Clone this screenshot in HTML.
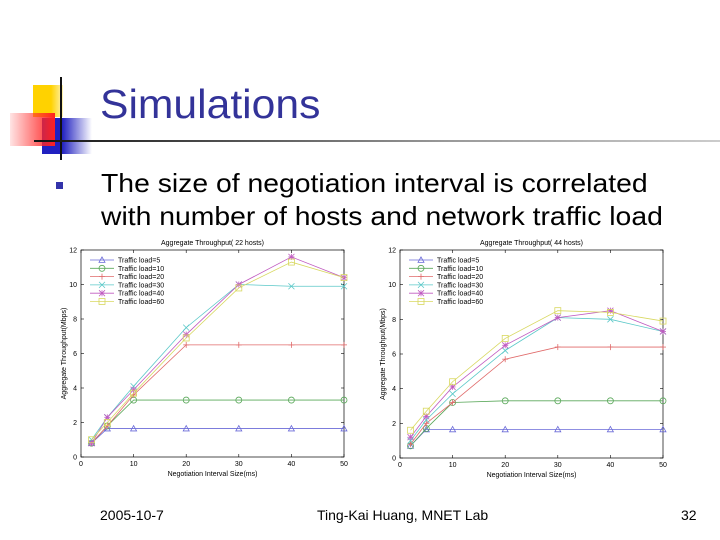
<!DOCTYPE html>
<html><head><meta charset="utf-8">
<style>
body{margin:0;background:#fff}
#slide{position:relative;width:720px;height:540px;overflow:hidden;background:#fff;font-family:"Liberation Sans",sans-serif}
.abs{position:absolute}
</style></head>
<body>
<div id="slide">
  <div class="abs" style="left:33px;top:85px;width:30px;height:32px;background:linear-gradient(90deg,#ffd200 60%,#fff2b0)"></div>
  <div class="abs" style="left:42px;top:118px;width:50px;height:36px;background:linear-gradient(90deg,#2020c0 40%,rgba(60,60,220,0))"></div>
  <div class="abs" style="left:10px;top:113px;width:45px;height:33px;background:linear-gradient(270deg,#ff2020,rgba(255,120,120,0.2))"></div>
  <div class="abs" style="left:60px;top:77px;width:2px;height:83px;background:#111"></div>
  <div class="abs" style="left:34px;top:140px;width:686px;height:2px;background:linear-gradient(90deg,#111,#999 60%,#ccc)"></div>
  <div class="abs" style="left:100px;top:81px;font-size:41px;color:#333399;transform:scaleX(1.04);transform-origin:0 0">Simulations</div>
  <div class="abs" style="left:56px;top:182px;width:7px;height:7px;background:#3333aa"></div>
  <div class="abs" style="left:101px;top:167px;font-size:26px;line-height:33px;color:#000;white-space:nowrap;transform:scaleX(1.09);transform-origin:0 0">The size of negotiation interval is correlated<br>with number of hosts and network traffic load</div>
  <svg class="abs" id="charts" style="left:0;top:0" width="720" height="540"></svg>
  <div class="abs" style="left:100px;top:507px;font-size:14px;color:#000">2005-10-7</div>
  <div class="abs" style="left:317px;top:507px;font-size:14px;color:#000">Ting-Kai Huang, MNET Lab</div>
  <div class="abs" style="left:681px;top:507px;font-size:14px;color:#000">32</div>
</div>
<script>
const xValues=[2,5,10,20,30,40,50];
const seriesLabels=["Traffic load=5","Traffic load=10","Traffic load=20","Traffic load=30","Traffic load=40","Traffic load=60"];
const xTicks=[0,10,20,30,40,50];
const yTicks=[0,2,4,6,8,10,12];
const hosts22=[
 [0.8,1.65,1.65,1.65,1.65,1.65,1.65],
 [0.8,1.8,3.3,3.3,3.3,3.3,3.3],
 [0.8,1.8,3.6,6.5,6.5,6.5,6.5],
 [1.0,2.3,4.1,7.5,10.0,9.9,9.9],
 [0.8,2.3,3.9,7.1,10.0,11.6,10.4],
 [1.0,2.0,3.7,6.9,9.8,11.3,10.4]];
const hosts44=[
 [0.7,1.65,1.65,1.65,1.65,1.65,1.65],
 [0.7,1.7,3.2,3.3,3.3,3.3,3.3],
 [0.8,2.0,3.2,5.7,6.4,6.4,6.4],
 [1.0,2.2,3.7,6.2,8.1,8.0,7.3],
 [1.2,2.4,4.1,6.5,8.1,8.5,7.3],
 [1.6,2.7,4.4,6.9,8.5,8.4,7.9]];
const colors=["#6a6ad8","#5aa85a","#e06a6a","#5ac8c8","#c05ac0","#d8d860"];
const markers=["tri","circ","plus","x","star","sq"];
const NS="http://www.w3.org/2000/svg";
const svg=document.getElementById('charts');
function mk(t,a,p){const e=document.createElementNS(NS,t);for(const k in a)e.setAttribute(k,a[k]);(p||svg).appendChild(e);return e;}
function marker(g,type,x,y,c){
  const s=3;
  if(type==="tri")mk('polygon',{points:`${x},${y-s} ${x-s},${y+s*0.8} ${x+s},${y+s*0.8}`,fill:'none',stroke:c,'stroke-width':0.8},g);
  else if(type==="circ")mk('circle',{cx:x,cy:y,r:s,fill:'none',stroke:c,'stroke-width':0.8},g);
  else if(type==="sq")mk('rect',{x:x-s,y:y-s,width:2*s,height:2*s,fill:'none',stroke:c,'stroke-width':0.8},g);
  else{
    if(type==="plus"||type==="star"){mk('line',{x1:x-s,y1:y,x2:x+s,y2:y,stroke:c,'stroke-width':0.8},g);mk('line',{x1:x,y1:y-s,x2:x,y2:y+s,stroke:c,'stroke-width':0.8},g);}
    if(type==="x"||type==="star"){mk('line',{x1:x-s,y1:y-s,x2:x+s,y2:y+s,stroke:c,'stroke-width':0.8},g);mk('line',{x1:x-s,y1:y+s,x2:x+s,y2:y-s,stroke:c,'stroke-width':0.8},g);}
  }
}
function chart(name,title,data,L,R,T,B){
  const g=mk('g',{});
  
  
  const xs=v=>L+(v-0)/50*(R-L), ys=v=>B-(v/12)*(B-T);
  const f={'font-family':'Liberation Sans, sans-serif','font-size':7,fill:'#000'};
  mk('rect',{x:L,y:T,width:R-L,height:B-T,fill:'#fff',stroke:'#000','stroke-width':0.7},g);
  xTicks.forEach(v=>{const x=xs(v);mk('line',{x1:x,y1:B,x2:x,y2:B-3,stroke:'#000','stroke-width':0.6},g);mk('line',{x1:x,y1:T,x2:x,y2:T+3,stroke:'#000','stroke-width':0.6},g);
    const t=mk('text',Object.assign({x:x,y:B+9,'text-anchor':'middle'},f),g);t.textContent=v;});
  yTicks.forEach(v=>{const y=ys(v);mk('line',{x1:L,y1:y,x2:L+3,y2:y,stroke:'#000','stroke-width':0.6},g);mk('line',{x1:R,y1:y,x2:R-3,y2:y,stroke:'#000','stroke-width':0.6},g);
    const t=mk('text',Object.assign({x:L-4,y:y+2.5,'text-anchor':'end'},f),g);t.textContent=v;});
  const tt=mk('text',Object.assign({x:(L+R)/2,y:T-5,'text-anchor':'middle'},f),g);tt.textContent=title;
  
  const xl=mk('text',Object.assign({x:(L+R)/2,y:B+19,'text-anchor':'middle'},f),g);xl.textContent="Negotiation Interval Size(ms)";
  
  const yl=mk('text',Object.assign({x:0,y:0,'text-anchor':'middle',transform:`translate(${L-15},${(T+B)/2}) rotate(-90)`},f),g);yl.textContent="Aggregate Throughput(Mbps)";
  
  data.forEach((s,i)=>{
    const sg=mk('g',{},g);
    
    
    mk('polyline',{points:s.map((v,j)=>xs(xValues[j])+','+ys(v)).join(' '),fill:'none',stroke:colors[i],'stroke-width':0.8},sg);
    s.forEach((v,j)=>marker(sg,markers[i],xs(xValues[j]),ys(v),colors[i]));
  });
  seriesLabels.forEach((lab,i)=>{
    const y=T+10+i*8.3;
    const lg=mk('g',{},g);
    
    
    mk('line',{x1:L+9,y1:y,x2:L+33,y2:y,stroke:colors[i],'stroke-width':0.8},lg);
    marker(lg,markers[i],L+21,y,colors[i]);
    const t=mk('text',Object.assign({x:L+37,y:y+2.5},f),lg);t.textContent=lab;
  });
}
chart('chart-22-hosts','Aggregate Throughput( 22 hosts)',hosts22,81,344,250,457);
chart('chart-44-hosts','Aggregate Throughput( 44 hosts)',hosts44,400,663,250,458);
</script>
</body></html>
